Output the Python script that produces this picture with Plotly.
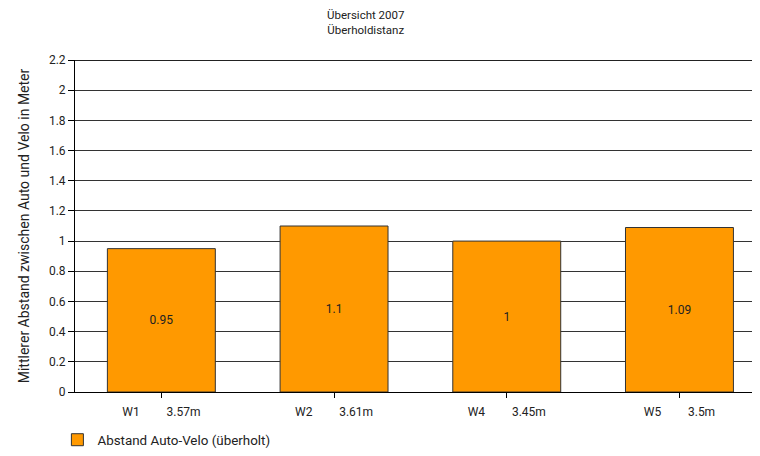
import plotly.graph_objects as go

FONT = "Roboto"
ORANGE = "#FF9900"
INK = "#222222"

stations = ["W1", "W2", "W4", "W5"]
distances = ["3.57m", "3.61m", "3.45m", "3.5m"]
gaps = [0.95, 1.1, 1.0, 1.09]
y_ticks = [0, 0.2, 0.4, 0.6, 0.8, 1, 1.2, 1.4, 1.6, 1.8, 2, 2.2]

SPACER = "\u00a0" * 9
tick_text = [f"{s}{SPACER}{d}" for s, d in zip(stations, distances)]

fig = go.Figure()
fig.add_bar(
    x=list(range(len(stations))),
    y=gaps,
    width=0.625,
    name="Abstand Auto-Velo (überholt)",
    marker={"color": ORANGE, "line": {"color": "#333333", "width": 1}},
    text=[f"{v:g}" for v in gaps],
    textposition="inside",
    insidetextanchor="middle",
    textangle=0,
    textfont={"family": FONT, "size": 12, "color": INK},
    constraintext="none",
)

fig.add_annotation(
    text="Übersicht 2007<br>Überholdistanz",
    xref="paper", yref="paper",
    x=0.4285, y=1.0, yshift=21,
    xanchor="center", yanchor="bottom",
    showarrow=False,
    font={"family": FONT, "size": 11.5, "color": INK},
)

# page body has an 8px margin, so the figure is 16px smaller than the window
fig.update_layout(
    width=744,
    height=440,
    margin={"l": 67, "r": 0, "t": 52, "b": 56, "autoexpand": False},
    paper_bgcolor="white",
    plot_bgcolor="white",
    font={"family": FONT, "size": 12, "color": INK},
    showlegend=True,
    legend={
        "x": -0.026, "y": -48 / 332,
        "xanchor": "left", "yanchor": "middle",
        "font": {"family": FONT, "size": 13.4, "color": INK},
        "itemwidth": 30,
        "borderwidth": 0,
    },
    bargap=0.375,
)
fig.update_xaxes(
    range=[-0.5, 3.42],
    tickvals=list(range(len(stations))),
    ticktext=tick_text,
    tickson="boundaries",
    ticks="outside",
    ticklen=5,
    tickcolor="black",
    ticklabelstandoff=4,
    showline=True,
    linecolor="black",
    linewidth=1,
    showgrid=False,
    zeroline=False,
    tickfont={"family": FONT, "size": 12, "color": INK},
)
fig.update_yaxes(
    range=[0, 2.2],
    tickvals=y_ticks,
    ticktext=[f"{v:g}" for v in y_ticks],
    ticks="outside",
    ticklen=6,
    tickcolor="black",
    showline=True,
    linecolor="black",
    linewidth=1,
    showgrid=True,
    gridcolor="#333333",
    gridwidth=1,
    zeroline=False,
    title={"text": "Mittlerer Abstand zwischen Auto und Velo in Meter", "standoff": 16,
           "font": {"family": FONT, "size": 14, "color": INK}},
    tickfont={"family": FONT, "size": 12, "color": INK},
)
fig.add_shape(
    type="line", xref="paper", yref="y",
    x0=0, x1=1, y0=2.2, y1=2.2,
    line={"color": "#222222", "width": 2},
)

fig.write_html("out.html")
